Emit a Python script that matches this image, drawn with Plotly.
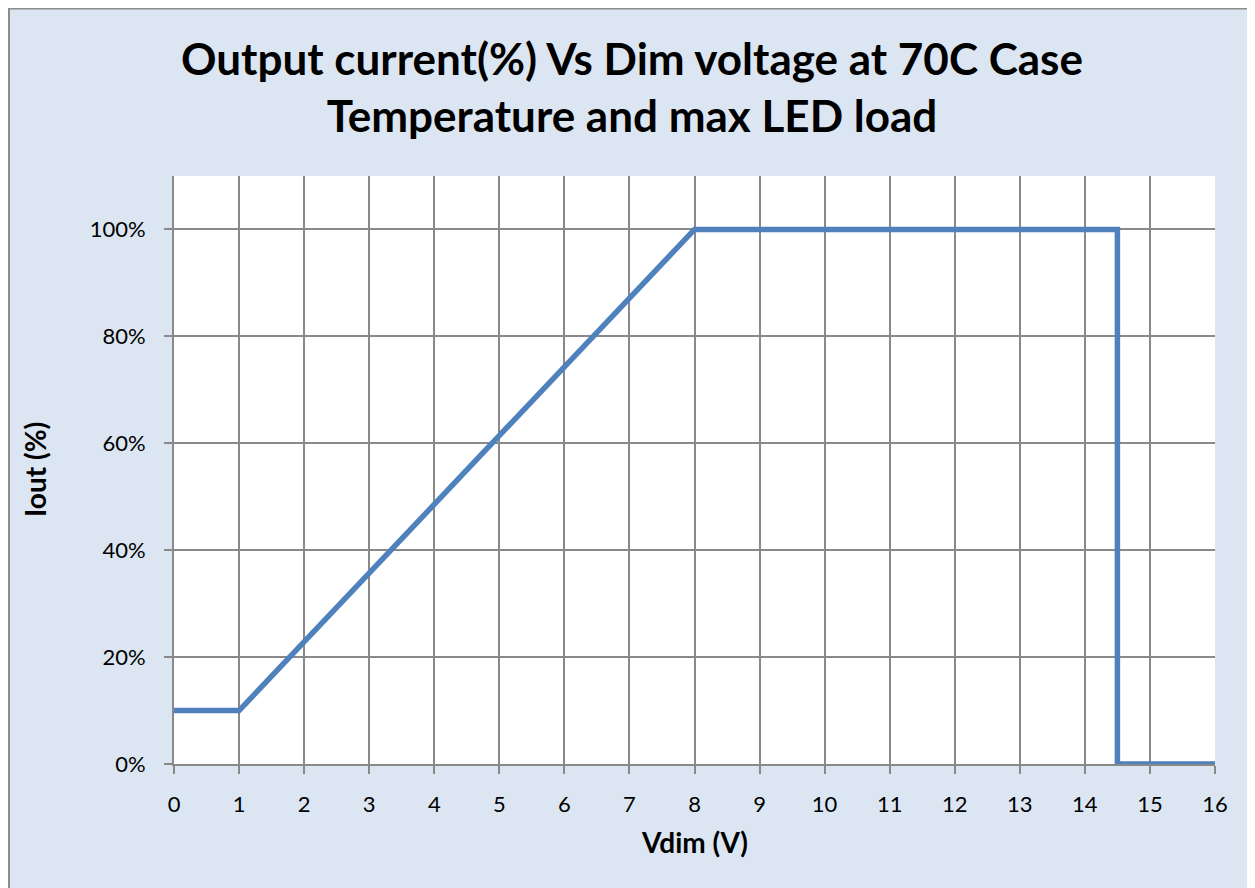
import plotly.graph_objects as go

vdim = [0, 1, 8, 14.5, 14.5, 16]
iout = [0.10, 0.10, 1.00, 1.00, 0.0, 0.0]
x_ticks = list(range(0, 17))
y_ticks = [0, 0.2, 0.4, 0.6, 0.8, 1.0]
y_tick_labels = ["0%", "20%", "40%", "60%", "80%", "100%"]

FONT = "Lato"
GRID = "#898989"
L, T, PW, PH = 166, 168, 1041, 588
W, H = 1255, 888

fig = go.Figure()
fig.add_trace(go.Scatter(x=vdim, y=iout, mode="lines",
                         line=dict(color="#4F81BD", width=5.5), showlegend=False))

fig.update_layout(
    width=W, height=H,
    paper_bgcolor="#DCE6F2", plot_bgcolor="white",
    margin=dict(l=L, r=W - L - PW, t=T, b=H - T - PH),
    title=dict(text="Output current(%) Vs Dim voltage at 70C Case<br>Temperature and max LED load",
               x=624 / W, xanchor="center", y=1 - 67 / H, yanchor="middle",
               font=dict(family=FONT, size=44, color="black", weight="bold")),
    font=dict(family=FONT, color="black"),
)
fig.update_xaxes(range=[0, 16], tickvals=x_ticks, showgrid=True, gridcolor=GRID, gridwidth=2,
                 showline=True, linecolor=GRID, linewidth=2,
                 ticks="outside", ticklen=8, tickcolor=GRID, tickwidth=2,
                 tickfont=dict(size=22, family=FONT), ticklabelstandoff=12,
                 zeroline=False)
fig.update_yaxes(range=[0, 1.1], tickvals=y_ticks, ticktext=y_tick_labels, showgrid=True,
                 gridcolor=GRID, gridwidth=2,
                 showline=True, linecolor=GRID, linewidth=2,
                 ticks="outside", ticklen=8, tickcolor=GRID, tickwidth=2,
                 tickfont=dict(size=22, family=FONT), ticklabelstandoff=14,
                 zeroline=False)
fig.add_annotation(text="<b>Vdim (V)</b>", xref="paper", yref="paper", x=0.5, y=(PH - (842 - 8 - T)) / PH,
                   xanchor="center", yanchor="middle", showarrow=False,
                   font=dict(family=FONT, size=28, color="black"))
fig.add_annotation(text="<b>Iout (%)</b>", xref="paper", yref="paper", x=(27 - L) / PW, y=0.5,
                   xanchor="center", yanchor="middle", showarrow=False, textangle=-90,
                   font=dict(family=FONT, size=28, color="black"))
fig.add_shape(type="rect", xref="paper", yref="paper", x0=-(L - 1) / PW, x1=(W - L + 5) / PW,
              y0=-(H - T) / PH, y1=1 + (T - 0.5) / PH, line=dict(color="#8C8C8C", width=2),
              fillcolor="rgba(0,0,0,0)")
fig.write_html("out.html")
